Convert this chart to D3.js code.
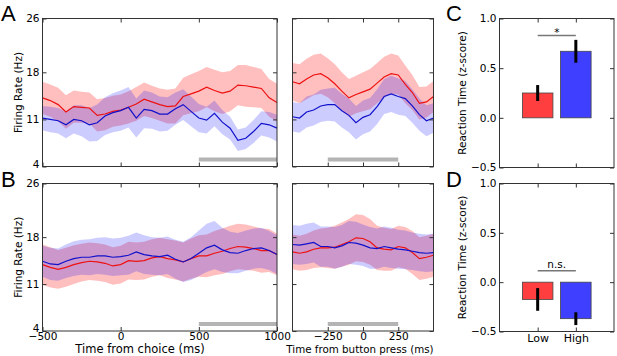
<!DOCTYPE html>
<html>
<head>
<meta charset="utf-8">
<script src="https://cdn.jsdelivr.net/npm/d3@7"></script>
<style>
  body { margin: 0; background: #fff; }
  svg { display: block; font-family: "DejaVu Sans", sans-serif; }
</style>
</head>
<body>
<svg id="chart" width="617" height="356"></svg>
<script>
var svg = d3.select("#chart");

// time grids (ms)
var tChoice = d3.range(-500, 1001, 50);
var tPress = d3.range(-500, 501, 50);

// A: firing rate, low (red) / high (blue)
var aChoiceLow = [14.2,13.8,13.2,12.1,12.9,12.8,12.7,11.6,11.8,12.2,12.4,12.8,13.3,14.0,13.6,13.2,12.9,13.0,14.4,14.8,15.2,15.8,15.3,14.9,15.2,16.1,16.0,15.8,15.6,14.2,13.5];
var aChoiceLowSem = [2.4,2.4,2.5,2.5,2.4,2.3,2.3,2.4,2.4,2.3,2.3,2.4,2.5,2.5,2.4,2.4,2.5,2.6,2.8,2.9,3.0,3.0,3.1,3.1,3.0,3.0,3.1,3.0,2.9,2.8,2.8];
var aChoiceHigh = [11.2,11.0,10.8,10.2,11.0,10.8,10.2,10.5,11.5,12.0,12.3,12.8,11.2,12.5,12.3,11.8,11.8,12.6,13.2,12.2,11.2,10.9,11.9,10.6,9.7,7.9,8.2,9.2,10.4,10.2,9.7];
var aChoiceHighSem = [1.8,1.9,1.9,2.0,2.1,2.3,2.5,2.7,2.8,2.9,3.0,3.0,2.9,2.8,2.7,2.6,2.5,2.4,2.3,2.2,2.1,2.0,1.9,1.8,1.7,1.6,1.6,1.7,1.8,1.9,2.0];

var aPressLow = [16.6,16.3,17.0,17.6,17.8,17.2,16.3,15.2,14.2,14.7,15.1,15.5,16.4,17.3,17.8,17.6,16.2,15.0,13.4,13.6,14.4];
var aPressLowSem = [2.8,2.9,3.0,3.0,3.0,2.9,2.9,2.8,2.8,2.8,2.9,3.0,3.0,3.0,3.0,2.9,2.8,2.6,2.4,2.3,2.3];
var aPressHigh = [11.4,11.2,12.1,12.4,13.0,13.2,13.2,12.3,11.6,10.5,11.3,11.7,12.9,14.4,14.8,14.4,14.1,13.0,11.7,10.8,11.2];
var aPressHighSem = [2.2,2.2,2.3,2.3,2.4,2.4,2.5,2.5,2.5,2.5,2.5,2.5,2.6,2.6,2.7,2.7,2.6,2.5,2.4,2.3,2.2];

// B: firing rate, low (red) / high (blue)
var bChoiceLow = [13.9,13.5,13.2,13.5,13.9,14.2,14.4,14.3,14.1,13.7,13.9,14.5,14.4,14.5,14.9,15.1,14.8,14.6,14.3,14.8,15.2,15.2,15.6,15.9,16.3,16.6,16.5,16.3,16.0,16.0,15.4];
var bChoiceLowSem = [3.0,3.0,2.9,2.9,2.9,2.8,2.8,2.8,2.8,2.8,2.8,2.8,2.8,2.8,2.8,2.8,2.9,2.9,2.9,3.0,3.1,3.2,3.3,3.4,3.4,3.4,3.4,3.3,3.3,3.2,3.1];
var bChoiceHigh = [14.4,14.0,13.9,14.4,14.8,15.0,15.0,15.2,15.2,15.0,15.1,15.3,15.8,15.4,15.2,15.1,15.3,14.7,14.3,14.8,15.6,16.4,16.8,16.1,15.7,15.6,16.0,16.3,16.4,16.0,15.4];
var bChoiceHighSem = [2.3,2.4,2.4,2.5,2.6,2.6,2.7,2.7,2.8,2.8,2.8,2.9,2.9,2.9,2.8,2.8,2.8,2.9,3.0,3.2,3.4,3.6,3.6,3.3,3.1,3.0,3.0,3.0,3.0,2.9,2.9];

var bPressLow = [15.8,15.6,15.8,16.2,16.4,16.4,16.5,16.9,17.3,17.9,17.8,17.3,16.4,16.2,16.1,16.6,16.4,15.7,14.8,15.0,15.3];
var bPressLowSem = [2.6,2.6,2.7,2.8,2.9,3.0,3.2,3.3,3.4,3.5,3.5,3.4,3.3,3.2,3.1,3.1,3.1,3.2,3.2,3.2,3.2];
var bPressHigh = [16.9,16.8,17.0,17.2,16.6,16.6,16.4,16.7,17.2,17.1,16.8,16.4,16.3,16.6,16.4,16.2,16.1,15.9,15.7,15.6,15.7];
var bPressHighSem = [2.9,2.9,3.0,3.0,3.0,3.0,3.1,3.1,3.2,3.2,3.1,3.1,3.0,3.0,3.0,2.9,2.9,2.8,2.8,2.8,2.8];

// analysis windows (grey bars)
var choiceWindow = [500, 1000];
var pressWindow = [-250, 250];

// tick labels
var rateTicks = [4, 11, 18, 26];
var choiceTicks = [-500, 0, 500, 1000];
var pressTicks = [-250, 0, 250];
var rtTicks = [-0.5, 0.0, 0.5, 1.0];

// C / D: reaction time bars
var groups = ["Low", "High"];
var rtC = [0.25, 0.67];
var rtCErr = [0.08, 0.115];
var rtD = [-0.175, -0.37];
var rtDErr = [0.115, 0.065];
var sigC = {label: "*", y: 0.83};
var sigD = {label: "n.s.", y: 0.115};

var RED = "#ee1111", BLUE = "#1111cc";
var FRAME = "#333";

function styleAxis(g, size) {
  g.select(".domain").remove();
  g.selectAll("line").attr("stroke", FRAME);
  g.selectAll("text")
    .attr("font-family", "DejaVu Sans, sans-serif")
    .attr("font-size", size)
    .attr("fill", "#000");
}

function tracePanel(box, times, low, lowSem, high, highSem, xTicks, win, yLabels, xLabel) {
  var x = d3.scaleLinear().domain([-500, times[times.length - 1]]).range([box.x0, box.x1]);
  var y = d3.scaleLinear().domain([4, 26]).range([box.y1, box.y0]);
  var g = svg.append("g");

  var area = function(mean, sem) {
    return d3.area()
      .x(function(d, i) { return x(times[i]); })
      .y0(function(d, i) { return y(mean[i] - sem[i]); })
      .y1(function(d, i) { return y(mean[i] + sem[i]); })(mean);
  };
  var line = function(mean) {
    return d3.line()
      .x(function(d, i) { return x(times[i]); })
      .y(function(d) { return y(d); })(mean);
  };

  g.append("path").attr("d", area(low, lowSem)).attr("fill", "#ff0000").attr("fill-opacity", 0.25);
  g.append("path").attr("d", area(high, highSem)).attr("fill", "#0000ff").attr("fill-opacity", 0.2);
  g.append("path").attr("d", line(low)).attr("fill", "none").attr("stroke", RED).attr("stroke-width", 1.2);
  g.append("path").attr("d", line(high)).attr("fill", "none").attr("stroke", BLUE).attr("stroke-width", 1.2);

  // grey window bar
  g.append("line")
    .attr("x1", x(win[0])).attr("x2", x(win[1]))
    .attr("y1", y(4) - 7).attr("y2", y(4) - 7)
    .attr("stroke", "#b4b4b4").attr("stroke-width", 4);

  // axes, inward ticks on all sides
  var bottom = g.append("g").attr("transform", "translate(0," + box.y1 + ")")
    .call(d3.axisBottom(x).tickValues(xTicks).tickSize(-4).tickPadding(1.5)
      .tickFormat(xLabel ? d3.format("d") : ""));
  styleAxis(bottom, 10.5);
  var top = g.append("g").attr("transform", "translate(0," + box.y0 + ")")
    .call(d3.axisTop(x).tickValues(xTicks).tickSize(-4).tickFormat(""));
  styleAxis(top, 11);
  var left = g.append("g").attr("transform", "translate(" + box.x0 + ",0)")
    .call(d3.axisLeft(y).tickValues(rateTicks).tickSize(-4).tickPadding(3)
      .tickFormat(yLabels ? d3.format("d") : ""));
  styleAxis(left, 10.5);
  // lift the bottom label a little so it clears the x tick labels
  left.selectAll(".tick text").filter(function(d) { return d === rateTicks[0]; }).attr("dy", "0.05em");
  var right = g.append("g").attr("transform", "translate(" + box.x1 + ",0)")
    .call(d3.axisRight(y).tickValues(rateTicks).tickSize(-4).tickFormat(""));
  styleAxis(right, 10);

  g.append("rect")
    .attr("x", box.x0).attr("y", box.y0)
    .attr("width", box.x1 - box.x0).attr("height", box.y1 - box.y0)
    .attr("fill", "none").attr("stroke", FRAME).attr("stroke-width", 1);

  if (yLabels) {
    g.append("text")
      .attr("transform", "translate(22," + (box.y0 + box.y1) / 2 + ") rotate(-90)")
      .attr("text-anchor", "middle")
      .attr("font-size", 10.5)
      .text("Firing Rate (Hz)");
  }
  if (xLabel) {
    g.append("text")
      .attr("x", xLabel.cx).attr("y", 352.5)
      .attr("text-anchor", "middle")
      .attr("font-size", xLabel.size)
      .text(xLabel.text);
  }
}

function barPanel(box, values, errs, sig, showX) {
  var x = d3.scaleLinear().domain([0, 3]).range([box.x0, box.x1]);
  var y = d3.scaleLinear().domain([-0.5, 1.0]).range([box.y1, box.y0]);
  var g = svg.append("g");
  var colors = ["#ff3f3f", "#3f3fff"];

  g.selectAll("rect.bar")
    .data(values)
    .enter()
    .append("rect")
      .attr("class", "bar")
      .attr("x", function(d, i) { return x(i + 1 - 0.4); })
      .attr("width", x(0.8) - x(0))
      .attr("y", function(d) { return y(Math.max(d, 0)); })
      .attr("height", function(d) { return Math.abs(y(d) - y(0)); })
      .attr("fill", function(d, i) { return colors[i]; })
      .attr("stroke", "#444").attr("stroke-width", 0.8);

  g.selectAll("line.err")
    .data(values)
    .enter()
    .append("line")
      .attr("class", "err")
      .attr("x1", function(d, i) { return x(i + 1); })
      .attr("x2", function(d, i) { return x(i + 1); })
      .attr("y1", function(d, i) { return y(d - errs[i]); })
      .attr("y2", function(d, i) { return y(d + errs[i]); })
      .attr("stroke", "#000").attr("stroke-width", 3);

  g.append("line")
    .attr("x1", x(1)).attr("x2", x(2))
    .attr("y1", y(sig.y)).attr("y2", y(sig.y))
    .attr("stroke", "#777").attr("stroke-width", 1.5);
  g.append("text")
    .attr("x", x(1.5)).attr("y", y(sig.y) - (sig.label === "*" ? -1 : 3))
    .attr("text-anchor", "middle")
    .attr("font-size", 10.5)
    .text(sig.label);

  var bottom = g.append("g").attr("transform", "translate(0," + box.y1 + ")")
    .call(d3.axisBottom(x).tickValues([1, 2]).tickSize(-4).tickPadding(3)
      .tickFormat(function(d) { return showX ? groups[d - 1] : ""; }));
  styleAxis(bottom, 11);
  var top = g.append("g").attr("transform", "translate(0," + box.y0 + ")")
    .call(d3.axisTop(x).tickValues([1, 2]).tickSize(-4).tickFormat(""));
  styleAxis(top, 10);
  var left = g.append("g").attr("transform", "translate(" + box.x0 + ",0)")
    .call(d3.axisLeft(y).tickValues(rtTicks).tickSize(-4).tickPadding(3).tickFormat(d3.format(".1f")));
  styleAxis(left, 10.5);
  var right = g.append("g").attr("transform", "translate(" + box.x1 + ",0)")
    .call(d3.axisRight(y).tickValues(rtTicks).tickSize(-4).tickFormat(""));
  styleAxis(right, 10);

  g.append("rect")
    .attr("x", box.x0).attr("y", box.y0)
    .attr("width", box.x1 - box.x0).attr("height", box.y1 - box.y0)
    .attr("fill", "none").attr("stroke", FRAME).attr("stroke-width", 1);

  g.append("text")
    .attr("transform", "translate(466," + (box.y0 + box.y1) / 2 + ") rotate(-90)")
    .attr("text-anchor", "middle")
    .attr("font-size", 10.5)
    .text("Reaction Time (z-score)");
}

var boxAL = {x0: 42.5, x1: 277, y0: 18.5, y1: 166.5};
var boxAR = {x0: 292.5, x1: 433.5, y0: 18.5, y1: 166.5};
var boxBL = {x0: 42.5, x1: 277, y0: 183.5, y1: 331};
var boxBR = {x0: 292.5, x1: 433.5, y0: 183.5, y1: 331};

tracePanel(boxAL, tChoice, aChoiceLow, aChoiceLowSem, aChoiceHigh, aChoiceHighSem, choiceTicks, choiceWindow, true, null);
tracePanel(boxAR, tPress, aPressLow, aPressLowSem, aPressHigh, aPressHighSem, pressTicks, pressWindow, false, null);
tracePanel(boxBL, tChoice, bChoiceLow, bChoiceLowSem, bChoiceHigh, bChoiceHighSem, choiceTicks, choiceWindow, true,
  {text: "Time from choice (ms)", cx: 140, size: 11.5});
tracePanel(boxBR, tPress, bPressLow, bPressLowSem, bPressHigh, bPressHighSem, pressTicks, pressWindow, false,
  {text: "Time from button press (ms)", cx: 360, size: 10.3});

barPanel({x0: 499.5, x1: 614, y0: 18.5, y1: 167.5}, rtC, rtCErr, sigC, false);
barPanel({x0: 499.5, x1: 614, y0: 183.5, y1: 331.5}, rtD, rtDErr, sigD, true);

// panel letters
var letters = [
  {t: "A", x: 1, y: 21},
  {t: "B", x: 1, y: 187},
  {t: "C", x: 446, y: 21},
  {t: "D", x: 446, y: 187}
];
svg.selectAll("text.letter")
  .data(letters)
  .enter()
  .append("text")
    .attr("class", "letter")
    .attr("x", function(d) { return d.x; })
    .attr("y", function(d) { return d.y; })
    .attr("font-family", "Liberation Sans, Arial, sans-serif")
    .attr("font-size", 22)
    .text(function(d) { return d.t; });
</script>
</body>
</html>
